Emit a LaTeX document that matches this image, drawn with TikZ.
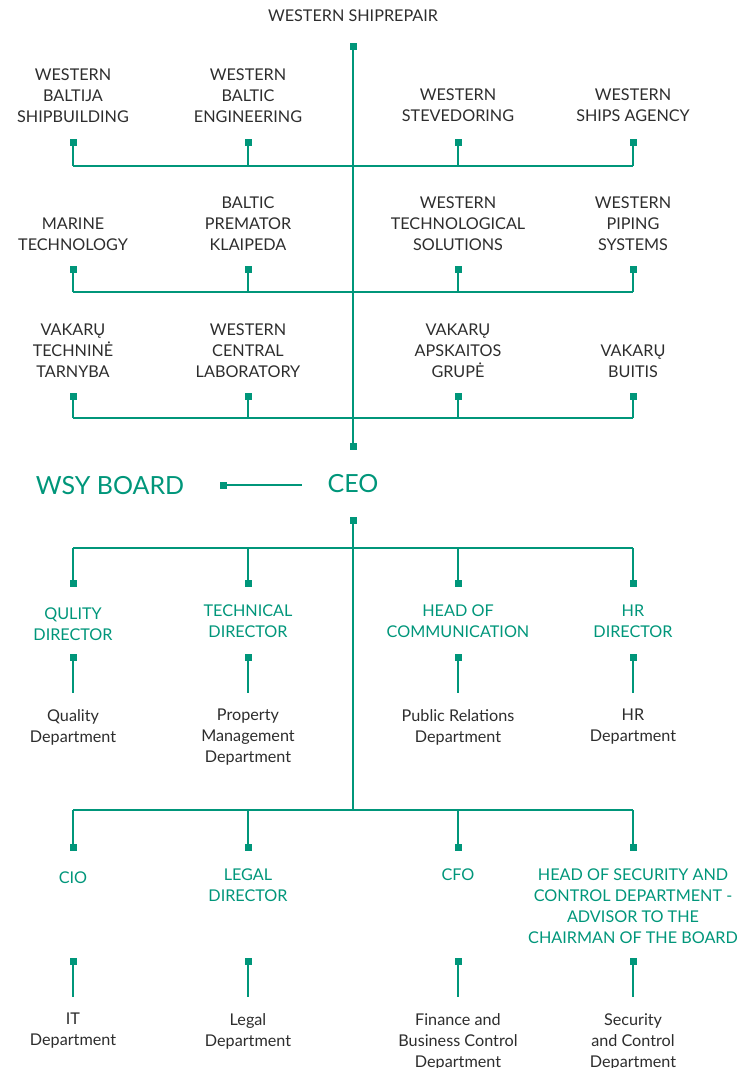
\documentclass[tikz,border=0pt]{standalone}
\usepackage{fontspec}
\setmainfont{Lato}
\definecolor{teal1}{RGB}{0,150,122}
\definecolor{ink}{RGB}{45,45,45}
\tikzset{
  sq/.style={rectangle,fill=teal1,minimum size=7pt,inner sep=0pt,outer sep=0pt},
  ln/.style={draw=teal1,line width=1.6pt},
  lbl/.style={anchor=north,inner sep=0pt,align=center,text=ink,font=\fontsize{16.2}{21}\selectfont},
  ttl/.style={lbl,text=teal1},
  big/.style={inner sep=0pt,text=teal1,font=\fontsize{25}{30}\selectfont}
}
\begin{document}
\begin{tikzpicture}[x=1pt,y=-1pt]
\useasboundingbox (0,0) rectangle (753,1068);
\def\ca{73}\def\cb{248}\def\cc{458}\def\cd{633}\def\cs{353}
% top
\node[lbl] (top) at (\cs,10) {WESTERN SHIPREPAIR};
\node[sq] (t0) at (\cs,46) {};
\node[sq] (s1) at (\cs,446) {};
\draw[ln] (t0) -- (s1);
% row 1
\node[lbl] (n11) at (\ca,69) {WESTERN\\BALTIJA\\SHIPBUILDING};
\node[lbl] (n12) at (\cb,69) {WESTERN\\BALTIC\\ENGINEERING};
\node[lbl] (n13) at (\cc,89) {WESTERN\\STEVEDORING};
\node[lbl] (n14) at (\cd,89) {WESTERN\\SHIPS AGENCY};
\foreach \n/\x in {a/\ca,b/\cb,c/\cc,d/\cd}{
  \node[sq] (r1\n) at (\x,142) {};
  \coordinate (j1\n) at (\x,166);
  \node[sq] (r2\n) at (\x,269) {};
  \coordinate (j2\n) at (\x,292);
  \node[sq] (r3\n) at (\x,396) {};
  \coordinate (j3\n) at (\x,418);
  \coordinate (ha\n) at (\x,548);
  \node[sq] (da\n) at (\x,583) {};
  \node[sq] (ea\n) at (\x,657) {};
  \coordinate (fa\n) at (\x,693);
  \coordinate (hb\n) at (\x,810);
  \node[sq] (db\n) at (\x,847) {};
  \node[sq] (eb\n) at (\x,961) {};
  \coordinate (fb\n) at (\x,997);
  \draw[ln] (r1\n) -- (j1\n);
  \draw[ln] (r2\n) -- (j2\n);
  \draw[ln] (r3\n) -- (j3\n);
  \draw[ln] (ha\n) -- (da\n);
  \draw[ln] (ea\n) -- (fa\n);
  \draw[ln] (hb\n) -- (db\n);
  \draw[ln] (eb\n) -- (fb\n);
}
\draw[ln] (j1a) -- (j1d);
\draw[ln] (j2a) -- (j2d);
\draw[ln] (j3a) -- (j3d);
% row 2
\node[lbl] (n21) at (\ca,218) {MARINE\\TECHNOLOGY};
\node[lbl] (n22) at (\cb,197) {BALTIC\\PREMATOR\\KLAIPEDA};
\node[lbl] (n23) at (\cc,197) {WESTERN\\TECHNOLOGICAL\\SOLUTIONS};
\node[lbl] (n24) at (\cd,197) {WESTERN\\PIPING\\SYSTEMS};
% row 3
\node[lbl] (n31) at (\ca,324) {VAKARŲ\\TECHNINĖ\\TARNYBA};
\node[lbl] (n32) at (\cb,324) {WESTERN\\CENTRAL\\LABORATORY};
\node[lbl] (n33) at (\cc,324) {VAKARŲ\\APSKAITOS\\GRUPĖ};
\node[lbl] (n34) at (\cd,345) {VAKARŲ\\BUITIS};
% CEO
\node[big] (ceo) at (\cs,484) {CEO};
\node[big] (board) at (110,486) {WSY BOARD};
\node[sq] (bs) at (223,485) {};
\coordinate (be) at (302,485);
\draw[ln] (bs) -- (be);
\node[sq] (c1) at (\cs,520) {};
\coordinate (cend) at (\cs,810);
\draw[ln] (c1) -- (cend);
\draw[ln] (haa) -- (had);
\draw[ln] (hba) -- (hbd);
% row A titles
\node[ttl] (ta1) at (\ca,608) {QULITY\\DIRECTOR};
\node[ttl] (ta2) at (\cb,605) {TECHNICAL\\DIRECTOR};
\node[ttl] (ta3) at (\cc,605) {HEAD OF\\COMMUNICATION};
\node[ttl] (ta4) at (\cd,605) {HR\\DIRECTOR};
% row A depts
\node[lbl] (pa1) at (\ca,709) {Quality\\Department};
\node[lbl] (pa2) at (\cb,709) {Property\\Management\\Department};
\node[lbl] (pa3) at (\cc,709) {Public Relations\\Department};
\node[lbl] (pa4) at (\cd,709) {HR\\Department};
% row B titles
\node[ttl] (tb1) at (\ca,872) {CIO};
\node[ttl] (tb2) at (\cb,869) {LEGAL\\DIRECTOR};
\node[ttl] (tb3) at (\cc,869) {CFO};
\node[ttl] (tb4) at (\cd,869) {HEAD OF SECURITY AND\\CONTROL DEPARTMENT -\\ADVISOR TO THE\\CHAIRMAN OF THE BOARD};
% row B depts
\node[lbl] (pb1) at (\ca,1013) {IT\\Department};
\node[lbl] (pb2) at (\cb,1013) {Legal\\Department};
\node[lbl] (pb3) at (\cc,1013) {Finance and\\Business Control\\Department};
\node[lbl] (pb4) at (\cd,1013) {Security\\and Control\\Department};
\end{tikzpicture}
\end{document}
